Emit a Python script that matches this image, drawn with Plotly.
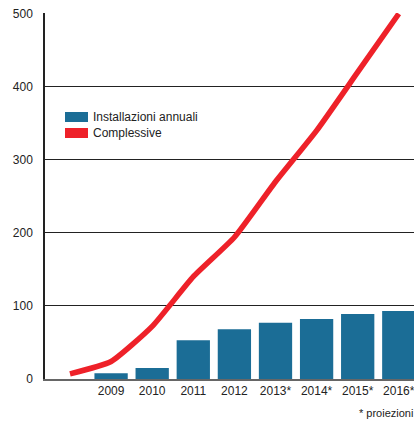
import plotly.graph_objects as go

# Data
categories = ["", "2009", "2010", "2011", "2012", "2013*", "2014*", "2015*", "2016*"]
annual_categories = ["2009", "2010", "2011", "2012", "2013*", "2014*", "2015*", "2016*"]
annual_values = [8, 15, 53, 68, 77, 82, 89, 93]
cumulative_values = [7, 24, 72, 140, 194, 270, 340, 420, 500]
y_ticks = [0, 100, 200, 300, 400, 500]

BLUE = "#1b6d96"
RED = "#ee2129"
FONT = "Liberation Sans, Arial, sans-serif"

x_all = list(range(len(categories)))
x_annual = [categories.index(c) for c in annual_categories]

fig = go.Figure()
fig.add_trace(go.Bar(x=x_annual, y=annual_values, marker=dict(color=BLUE, line=dict(width=0)),
                     width=0.81, name="Installazioni annuali", showlegend=False))
fig.add_trace(go.Scatter(x=x_all, y=cumulative_values, mode="lines",
                         line=dict(color=RED, width=5.5, shape="spline", smoothing=0.5),
                         name="Complessive", showlegend=False))

fig.update_layout(
    width=414, height=421,
    margin=dict(l=45, r=0, t=13, b=42),
    paper_bgcolor="white", plot_bgcolor="white",
    font=dict(family=FONT, size=12, color="#222"),
    bargap=0.19,
)
fig.update_xaxes(
    range=[-0.608, 8.37], tickvals=x_annual, ticktext=annual_categories,
    showgrid=False, zeroline=False, showline=True, linecolor="#666", linewidth=1.5,
    ticks="", ticklabeloverflow="allow", tickfont=dict(size=12, color="#222"), fixedrange=True,
)
fig.update_yaxes(
    range=[0, 501], tickvals=y_ticks, showgrid=True, gridcolor="#222", gridwidth=1,
    zeroline=False, showline=True, linecolor="#222", linewidth=1.5,
    ticks="", ticklabelstandoff=8, tickfont=dict(size=12, color="#222"), fixedrange=True,
)

# Manual legend (rectangular swatches like the reference)
legend_items = [("Installazioni annuali", BLUE), ("Complessive", RED)]
for i, (label, color) in enumerate(legend_items):
    y0 = 112 + i * 16
    fig.add_shape(type="rect", xref="paper", yref="paper",
                  x0=(65 - 45) / 369, x1=(88 - 45) / 369,
                  y0=(379 - (y0 + 10)) / 366, y1=(379 - y0) / 366,
                  fillcolor=color, line=dict(width=0))
    fig.add_annotation(xref="paper", yref="paper", x=(91 - 45) / 369, y=(379 - (y0 + 5)) / 366,
                       text=label, showarrow=False, xanchor="left", yanchor="middle",
                       font=dict(family=FONT, size=12, color="#222"))

fig.add_annotation(xref="paper", yref="paper", x=(357 - 45) / 369, y=(379 - 413) / 366,
                   text="* proiezioni", showarrow=False, xanchor="left", yanchor="middle",
                   font=dict(family=FONT, size=11, color="#222"))

fig.write_html("out.html", config={"displayModeBar": False},
               post_script="document.body.style.margin='0';document.body.style.overflow='hidden';")
